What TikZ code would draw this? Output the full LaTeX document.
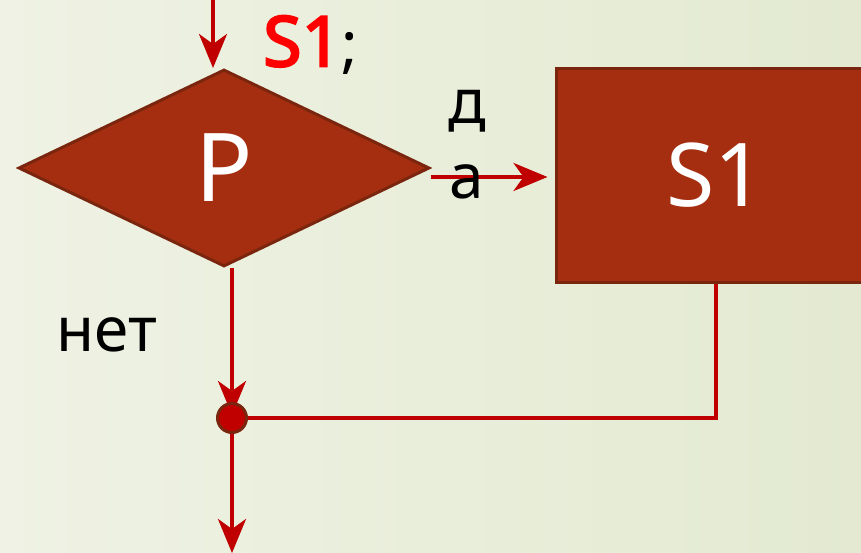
\documentclass[tikz,border=0pt]{standalone}
\usepackage{fontspec}
\setmainfont{Noto Sans}
\newfontfamily\heavyfont{Noto Sans}[FakeBold=3]
\usetikzlibrary{arrows.meta,positioning,shapes.geometric,calc}
\definecolor{blockfill}{RGB}{165,46,16}
\definecolor{blockline}{RGB}{122,38,14}
\definecolor{flowred}{RGB}{192,0,0}
\definecolor{bgleft}{RGB}{239,242,228}
\definecolor{bgright}{RGB}{227,234,209}
\pgfdeclarelayer{bg}
\pgfdeclarelayer{wires}
\pgfsetlayers{bg,wires,main}
\tikzset{
	block/.style={draw=blockline, line width=3pt, fill=blockfill, text=white, inner sep=0pt},
	flow/.style={draw=flowred, line width=4pt, -{Stealth[length=34pt,width=28pt,inset=10pt]}},
	flowline/.style={draw=flowred, line width=4pt},
	lbl/.style={font=\fontsize{62}{75}\selectfont, inner sep=0pt},
	joint/.style={circle, draw=blockline, line width=3pt, fill=flowred, minimum size=29pt, inner sep=0pt}
}
\begin{document}
\begin{tikzpicture}[x=1pt,y=-1pt]
		\useasboundingbox (0,0) rectangle (861,553);
		\begin{pgfonlayer}{bg}
			\shade[left color=bgleft, right color=bgright] (0,0) rectangle (861,553);
		\end{pgfonlayer}
		
		\node[block, diamond, aspect=2.08, minimum width=411pt, minimum height=197pt, font=\fontsize{95}{100}\selectfont]
						(P)			at	(224,168)		{P};
		\node[block, minimum width=320pt, minimum height=213pt, font=\fontsize{88}{95}\selectfont]
						(S1box)		at	(716,175.5)		{S1};
		\node[joint]	(join)		at	(232,418)		{};
		
		\node[lbl, anchor=west]			(title)	at	(263,45)	{\textcolor{red}{\heavyfont\fontsize{70}{75}\selectfont S1};};
		\node[lbl, align=center]			(yes)	at	(467,145)	{д\\а};
		\node[lbl]						(no)	at	(107,335)	{нет};
		
		\coordinate	(in)	at	(213,0);
		\coordinate	(out)	at	(232,553);
		
		\begin{pgfonlayer}{wires}
			\draw[flow] (in) -- (in |- P.north);
			\draw[flow, shorten >=7pt] ([yshift=-9pt]P.east) -- ([yshift=-9pt]P.east -| S1box.west);
			\draw[flow, shorten >=-13pt] ([xshift=8pt]P.south) -- (join);
			\draw[flowline] (S1box.south) |- (join);
			\draw[flow] (join) -- (out);
		\end{pgfonlayer}
	\end{tikzpicture}
\end{document}
